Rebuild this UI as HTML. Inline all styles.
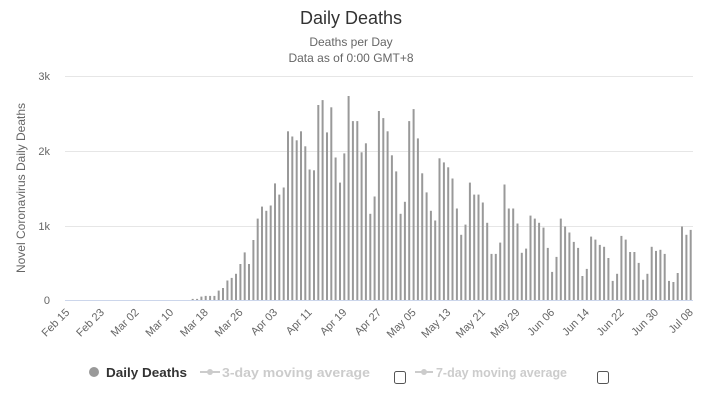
<!DOCTYPE html>
<html><head><meta charset="utf-8"><style>
body{margin:0;background:#fff;}
svg{display:block;font-family:"Liberation Sans",sans-serif;}
</style></head><body>
<svg id="c" width="703" height="400" xmlns="http://www.w3.org/2000/svg">
<text x="351" y="24" text-anchor="middle" font-size="18" fill="#333">Daily Deaths</text>
<text x="351" y="46" text-anchor="middle" font-size="12" fill="#666">Deaths per Day</text>
<text x="351" y="62" text-anchor="middle" font-size="12" fill="#666">Data as of 0:00 GMT+8</text>
<g stroke="#e6e6e6" stroke-width="1">
<line x1="65" x2="693" y1="76.5" y2="76.5"/>
<line x1="65" x2="693" y1="151.5" y2="151.5"/>
<line x1="65" x2="693" y1="226.5" y2="226.5"/>
</g>
<g font-size="11" fill="#666" text-anchor="end">
<text x="50" y="80">3k</text><text x="50" y="155">2k</text><text x="50" y="230">1k</text><text x="50" y="304">0</text>
</g>
<text transform="translate(25,188) rotate(-90)" text-anchor="middle" font-size="12" fill="#666">Novel Coronavirus Daily Deaths</text>
<g id="bars" fill="#999"></g>
<line x1="65" x2="693" y1="300.5" y2="300.5" stroke="#ccd6eb"/>
<g id="xl" font-size="11" fill="#666" text-anchor="end"></g>
<circle cx="94" cy="372" r="5" fill="#999"/>
<text x="106" y="377" font-size="12.5" font-weight="bold" fill="#333" textLength="81" lengthAdjust="spacingAndGlyphs">Daily Deaths</text>
<line x1="200" x2="220" y1="372" y2="372" stroke="#ccc" stroke-width="2"/><circle cx="210" cy="372" r="3" fill="#ccc"/>
<text x="222" y="377" font-size="12.5" font-weight="bold" fill="#ccc" textLength="148" lengthAdjust="spacingAndGlyphs">3-day moving average</text>
<rect x="394.5" y="371.5" width="11" height="12" rx="2" fill="#fff" stroke="#555"/>
<line x1="415" x2="433" y1="372" y2="372" stroke="#ccc" stroke-width="2"/><circle cx="424" cy="372" r="3" fill="#ccc"/>
<text x="436" y="377" font-size="12.5" font-weight="bold" fill="#ccc" textLength="131" lengthAdjust="spacingAndGlyphs">7-day moving average</text>
<rect x="597.5" y="371.5" width="11" height="12" rx="2" fill="#fff" stroke="#555"/>
</svg>
<script>
var v=[15,15,45,55,55,55,125,160,260,295,350,480,635,480,800,1085,1245,1190,1260,1555,1405,1500,2250,2180,2130,2250,2050,1740,1730,2600,2665,2235,2570,1900,1565,1955,2720,2385,2385,1970,2090,1150,1380,2520,2425,2250,1930,1715,1150,1310,2385,2545,2155,1690,1435,
1190,1060,1890,1835,1770,1620,1220,870,1005,1565,1405,1405,1300,1030,615,615,765,1540,1220,1220,1020,630,685,1125,1085,1030,965,695,375,575,1085,980,900,775,695,320,415,845,805,735,710,560,255,350,855,805,640,640,495,270,350,710,655,670,615,255,240,360,980,870,935];
var start=145-v.length, ns='http://www.w3.org/2000/svg';
var g=document.getElementById('bars');
for(var k=0;k<v.length;k++){var i=start+k;var cx=65+4.33*(i+0.5);var h=v[k]*0.075;
var r=document.createElementNS(ns,'rect');r.setAttribute('x',(cx-1).toFixed(1));r.setAttribute('width','2');r.setAttribute('y',(300-h).toFixed(1));r.setAttribute('height',h.toFixed(1));g.appendChild(r);}
var labs=['Feb 15','Feb 23','Mar 02','Mar 10','Mar 18','Mar 26','Apr 03','Apr 11','Apr 19','Apr 27','May 05','May 13','May 21','May 29','Jun 06','Jun 14','Jun 22','Jun 30','Jul 08'];
var xl=document.getElementById('xl');
for(var j=0;j<labs.length;j++){var x=65+4.33*(j*8+0.5)+3;var t=document.createElementNS(ns,'text');
t.setAttribute('transform','translate('+x.toFixed(1)+',313) rotate(-45)');t.textContent=labs[j];xl.appendChild(t);}
</script>
</body></html>
